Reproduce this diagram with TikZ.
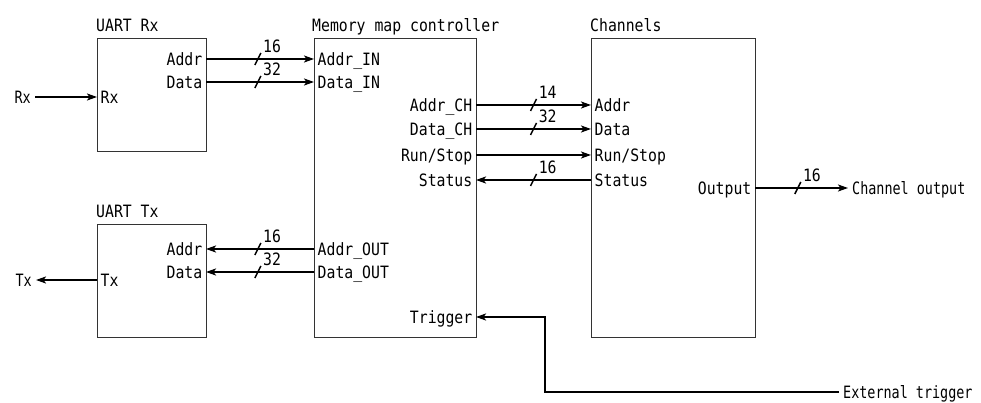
\documentclass[tikz,border=0pt]{standalone}
\usepackage{fontspec}
\setmainfont[FakeStretch=0.87]{DejaVu Sans Mono}
\newfontfamily\extfont[FakeStretch=0.79]{DejaVu Sans Mono}
\usetikzlibrary{arrows.meta}

\tikzset{
  blk/.style={draw=black!80, line width=1pt, anchor=north west, inner sep=0pt},
  title/.style={anchor=base west, inner sep=0pt},
  port/.style={inner xsep=3.5pt, inner ysep=0pt, text height=12.4pt, text depth=0pt},
  pin/.style={port, anchor=west},
  pout/.style={port, anchor=east},
  ext/.style={inner xsep=4pt, inner ysep=0pt, text height=12.4pt, text depth=0pt, font=\fontsize{17}{19}\extfont},
  sig/.style={line width=2.6pt, -{Stealth[length=10pt,width=7pt,inset=2.5pt]}},
  trig/.style={line width=2.4pt, -{Stealth[length=10pt,width=7pt,inset=2.5pt]}},
  buswidth/.pic={
    \draw[line width=1.5pt,-] (-3pt,-6pt) -- (3pt,6pt);
    \node[anchor=south west, inner sep=0pt, text height=12.4pt, text depth=0pt] at (4pt,5pt) {#1};
  },
}

\begin{document}
\begin{tikzpicture}[x=1pt, y=-1pt, font=\fontsize{17}{19}\selectfont]
\useasboundingbox (0,0) rectangle (981,403);

% ---- blocks ----
\node[blk, minimum width=109pt, minimum height=113pt] (urx) at (97,38) {};
\node[blk, minimum width=109pt, minimum height=113pt] (utx) at (97,224) {};
\node[blk, minimum width=162pt, minimum height=299pt] (mmc) at (314,38) {};
\node[blk, minimum width=164pt, minimum height=299pt] (chn) at (591,38) {};

% ---- block titles ----
\node[title] (turx) at (96,32) {UART Rx};
\node[title] (tutx) at (96,218) {UART Tx};
\node[title] (tmmc) at (312,32) {Memory map controller};
\node[title] (tchn) at (590,32) {Channels};

% ---- UART Rx ports ----
\node[pout] (rxAddr) at (206,59) {Addr};
\node[pout] (rxData) at (206,82) {Data};
\node[pin]  (rxRx)   at (97,97)  {Rx};

% ---- UART Tx ports ----
\node[pout] (txAddr) at (206,249) {Addr};
\node[pout] (txData) at (206,272) {Data};
\node[pin]  (txTx)   at (97,280)  {Tx};

% ---- memory map controller ports ----
\node[pin]  (mAddrIn)  at (314,59)  {Addr\_IN};
\node[pin]  (mDataIn)  at (314,82)  {Data\_IN};
\node[pout] (mAddrCh)  at (476,105) {Addr\_CH};
\node[pout] (mDataCh)  at (476,129) {Data\_CH};
\node[pout] (mRun)     at (476,155) {Run/Stop};
\node[pout] (mStatus)  at (476,180) {Status};
\node[pin]  (mAddrOut) at (314,249) {Addr\_OUT};
\node[pin]  (mDataOut) at (314,272) {Data\_OUT};
\node[pout] (mTrig)    at (476,317) {Trigger};

% ---- channel ports ----
\node[pin]  (cAddr)   at (591,105) {Addr};
\node[pin]  (cData)   at (591,129) {Data};
\node[pin]  (cRun)    at (591,155) {Run/Stop};
\node[pin]  (cStatus) at (591,180) {Status};
\node[pout] (cOut)    at (755,188) {Output};

% ---- external signals ----
\node[ext, anchor=east] (xRx)  at (35,97)   {Rx};
\node[ext, anchor=east] (xTx)  at (36,280)  {Tx};
\node[ext, anchor=west] (xOut) at (848,188) {Channel output};
\node[ext, anchor=west] (xTrg) at (839,392) {External trigger};
\coordinate (bend) at (545,392);

% ---- connections ----
\draw[sig] (xRx.east) -- (rxRx.west);
\draw[sig] (txTx.west) -- (xTx.east);

\draw[sig] (rxAddr.east) -- pic[pos=.48]{buswidth=16} (mAddrIn.west);
\draw[sig] (rxData.east) -- pic[pos=.48]{buswidth=32} (mDataIn.west);

\draw[sig] (mAddrOut.west) -- pic[pos=.52]{buswidth=16} (txAddr.east);
\draw[sig] (mDataOut.west) -- pic[pos=.52]{buswidth=32} (txData.east);

\draw[sig] (mAddrCh.east) -- pic[pos=.5]{buswidth=14} (cAddr.west);
\draw[sig] (mDataCh.east) -- pic[pos=.5]{buswidth=32} (cData.west);
\draw[sig] (mRun.east) -- (cRun.west);
\draw[sig] (cStatus.west) -- pic[pos=.5]{buswidth=16} (mStatus.east);

\draw[sig] (cOut.east) -- pic[pos=.46]{buswidth=16} (xOut.west);

\draw[trig] (xTrg.west) -- (bend) |- (mTrig.east);
\end{tikzpicture}
\end{document}
